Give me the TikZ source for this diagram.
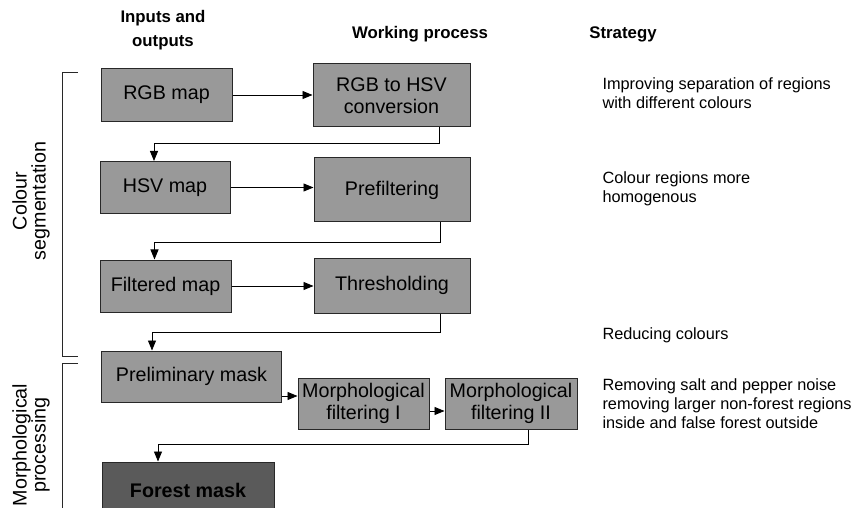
\documentclass[tikz,border=0pt]{standalone}
\usepackage{fontspec}
\setmainfont{Liberation Sans}
\usetikzlibrary{arrows.meta}
\definecolor{boxgray}{RGB}{153,153,153}
\definecolor{maskgray}{RGB}{90,90,90}
\definecolor{linegray}{RGB}{40,40,40}
\begin{document}
\begin{tikzpicture}[x=1pt,y=-1pt,
		box/.style={draw=linegray,line width=1pt,fill=boxgray,inner sep=0pt,align=center,font=\fontsize{19.7}{22}\selectfont},
		arr/.style={line width=0.9pt,-{Triangle[length=10pt,width=8pt]}},
		head/.style={font=\fontsize{16.8}{24}\selectfont\bfseries,align=center},
		note/.style={anchor=west,align=left,font=\fontsize{16.3}{18.5}\selectfont},
		side/.style={rotate=90,align=center,font=\fontsize{19.7}{19}\selectfont}]
	\useasboundingbox (0,0) rectangle (855,508);
	% column heads
	\node[head] (io) at (163,30) {Inputs and\\outputs};
	\node[head] (wp) at (420,34) {Working process};
	\node[head] (strat) at (623,34) {Strategy};
	% boxes
	\node[box,minimum width=131pt,minimum height=53pt] (rgb) at (166.5,95) {RGB map};
	\node[box,minimum width=157pt,minimum height=63pt] (conv) at (391.5,95.5) {RGB to HSV\\conversion};
	\node[box,minimum width=130pt,minimum height=52pt] (hsv) at (165,187.5) {HSV map};
	\node[box,minimum width=156pt,minimum height=64pt] (pre) at (392,190) {Prefiltering};
	\node[box,minimum width=131pt,minimum height=52pt] (filt) at (165.5,286) {Filtered map};
	\node[box,minimum width=156pt,minimum height=55pt] (thr) at (392,285.5) {Thresholding};
	\node[box,minimum width=180pt,minimum height=51pt] (prelim) at (191.5,376.5) {Preliminary mask};
	\node[box,minimum width=131pt,minimum height=51pt] (mf1) at (363.5,403.5) {Morphological\\filtering I};
	\node[box,minimum width=132pt,minimum height=51pt] (mf2) at (511,403.5) {Morphological\\filtering II};
	\node[box,fill=maskgray,font=\fontsize{19.7}{22}\selectfont\bfseries,minimum width=172pt,minimum height=56pt] (forest) at (188,490) {Forest mask};
	% connectors
	\draw[arr] (rgb.east) -- (rgb.east -| conv.west);
	\draw[arr] ([xshift=48pt]conv.south) -- ++(0,16) -| ([xshift=-11pt]hsv.north);
	\draw[arr] (hsv.east) -- (hsv.east -| pre.west);
	\draw[arr] ([xshift=48pt]pre.south) -- ++(0,20) -| ([xshift=-11pt]filt.north);
	\draw[arr] (filt.east) -- (filt.east -| thr.west);
	\draw[arr] ([xshift=48pt]thr.south) -- ++(0,19) -| ([xshift=-39.5pt]prelim.north);
	\draw[arr] ([yshift=-19.5pt]prelim.east) -- ([yshift=-19.5pt]prelim.east -| mf1.west);
	\draw[arr] ([yshift=-7.5pt]mf1.east) -- ([yshift=-7.5pt]mf2.west);
	\draw[arr] ([xshift=17pt]mf2.south) -- ++(0,15) -| ([xshift=-30pt]forest.north);
	% stage brackets
	\draw[linegray,line width=0.9pt] (78,72) -| (62,356) -- (78,356);
	\draw[linegray,line width=0.9pt] (78,363) -| (62,508);
	\node[side] (colseg) at (31,201) {Colour\\segmentation};
	\node[side] (morph) at (31,445) {Morphological\\processing};
	% strategy
	\node[note] (s1) at (599,93) {Improving separation of regions\\with different colours};
	\node[note] (s2) at (599,189) {Colour regions more\\homogenous};
	\node[note] (s3) at (599,335) {Reducing colours};
	\node[note] (s4) at (599,386) {Removing salt and pepper noise};
	\node[note] (s5) at (599,413) {removing larger non-forest regions\\inside and false forest outside};
\end{tikzpicture}
\end{document}
